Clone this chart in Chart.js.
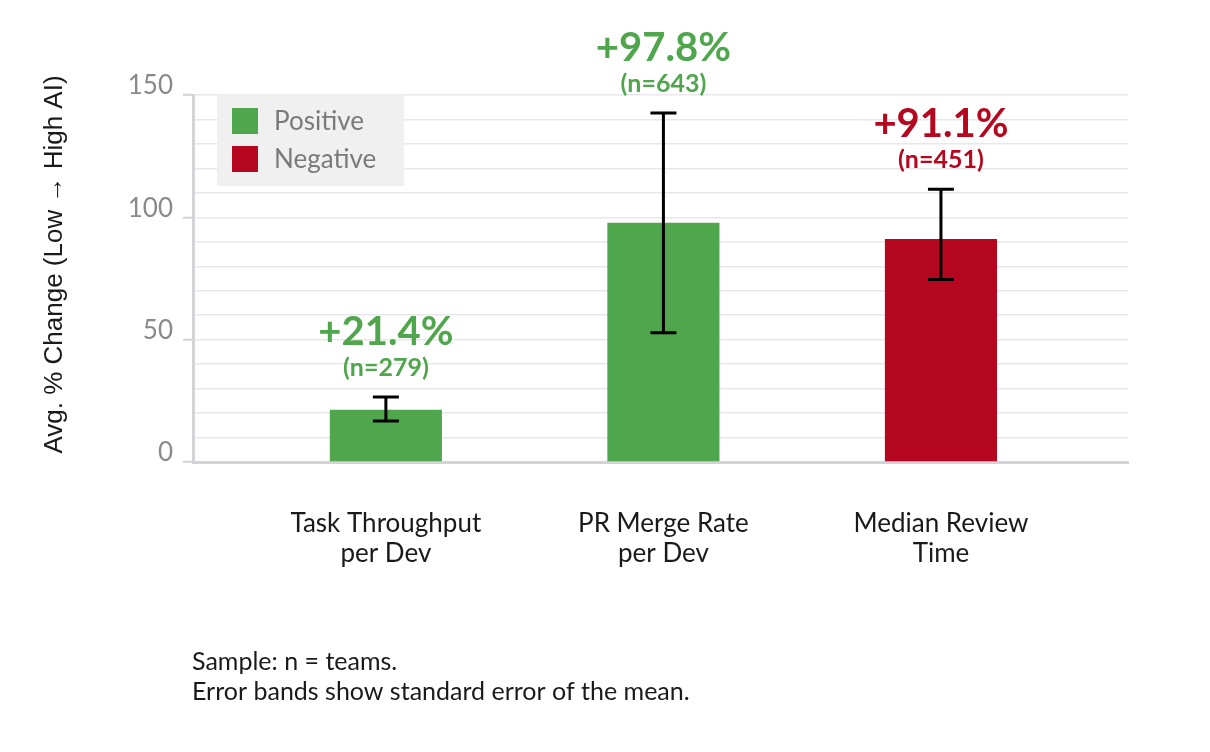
<!DOCTYPE html>
<html>
<head>
<meta charset="utf-8">
<script src="https://cdn.jsdelivr.net/npm/chart.js@4.4.1/dist/chart.umd.min.js"></script>
<style>
  html, body { margin: 0; padding: 0; background: #ffffff; }
  #wrap { width: 1210px; height: 752px; position: relative; }
</style>
</head>
<body>
<div id="wrap"><canvas id="c" width="1210" height="752"></canvas></div>
<script>
// ---- data ----
const categories = [["Task Throughput", "per Dev"], ["PR Merge Rate", "per Dev"], ["Median Review", "Time"]];
const values = [21.4, 97.8, 91.1];
const errorsUp = [5.2, 44.8, 20.4];
const errorsDown = [4.6, 45.0, 16.5];
const sampleSizes = [279, 643, 451];
const sentiment = ["Positive", "Positive", "Negative"];
const seriesNames = ["Positive", "Negative"];
const seriesColors = ["#50a64c", "#b5071f"];
const yTickLabels = [0, 50, 100, 150];
const footerLines = ["Sample: n = teams.", "Error bands show standard error of the mean."];
const yTitle = "Avg. % Change (Low \u2192 High AI)";

const datasets = seriesNames.map((name, s) => ({
  label: name,
  data: values.map((v, i) => sentiment[i] === name ? { x: i, y: v } : null).filter(p => p !== null),
  backgroundColor: seriesColors[s],
  borderWidth: 0,
  grouped: false,
  barPercentage: 0.404,
  categoryPercentage: 1.0
}));

const colorFor = i => seriesColors[seriesNames.indexOf(sentiment[i])];

const errorBarPlugin = {
  id: 'errorBars',
  afterDatasetsDraw(chart) {
    const { ctx, scales: { x, y } } = chart;
    ctx.save();
    ctx.strokeStyle = '#000000';
    ctx.lineWidth = 3;
    values.forEach((v, i) => {
      const px = x.getPixelForValue(i);
      const top = y.getPixelForValue(v + errorsUp[i]);
      const bot = y.getPixelForValue(v - errorsDown[i]);
      ctx.beginPath();
      ctx.moveTo(px, top); ctx.lineTo(px, bot);
      ctx.moveTo(px - 13, top); ctx.lineTo(px + 13, top);
      ctx.moveTo(px - 13, bot); ctx.lineTo(px + 13, bot);
      ctx.stroke();
    });
    // value labels
    ctx.textAlign = 'center';
    ctx.textBaseline = 'middle';
    values.forEach((v, i) => {
      const px = x.getPixelForValue(i);
      const top = y.getPixelForValue(v + errorsUp[i]);
      ctx.fillStyle = colorFor(i);
      ctx.font = 'bold 40px Lato';
      ctx.fillText('+' + v.toFixed(1) + '%', px, top - 65);
      ctx.font = 'bold 25px Lato';
      ctx.fillText('(n=' + sampleSizes[i] + ')', px, top - 29);
    });
    ctx.restore();
  }
};

const legendPlugin = {
  id: 'boxLegend',
  afterDraw(chart) {
    const { ctx, chartArea } = chart;
    const lx = chartArea.left + 24, ly = chartArea.top - 1;
    ctx.save();
    ctx.fillStyle = '#f0f0f0';
    ctx.fillRect(lx, ly, 187, 92);
    ctx.font = '26px Lato';
    ctx.textBaseline = 'middle';
    ctx.textAlign = 'left';
    chart.data.datasets.forEach((ds, k) => {
      const cy = ly + 27 + k * 38;
      ctx.fillStyle = ds.backgroundColor;
      ctx.fillRect(lx + 15, cy - 13, 26, 26);
      ctx.fillStyle = '#7a7a7a';
      ctx.fillText(ds.label, lx + 57, cy + 1);
    });
    // footer
    ctx.fillStyle = '#1a1a1a';
    ctx.font = '25px Lato';
    footerLines.forEach((t, k) => {
      ctx.fillText(t, chartArea.left - 1, chartArea.bottom + 200 + k * 30);
    });
    // y axis title
    ctx.save();
    ctx.translate(55, (chartArea.top + chartArea.bottom) / 2 - 14);
    ctx.rotate(-Math.PI / 2);
    ctx.textAlign = 'center';
    ctx.textBaseline = 'middle';
    ctx.font = '26px "Liberation Sans"';
    ctx.fillText(yTitle, 0, 0);
    ctx.restore();
    ctx.restore();
  }
};

new Chart(document.getElementById('c'), {
  type: 'bar',
  data: { datasets },
  options: {
    responsive: false,
    animation: false,
    devicePixelRatio: 1,
    layout: { padding: { top: 95, right: 82, bottom: 0, left: 0 } },
    plugins: { legend: { display: false }, tooltip: { enabled: false } },
    scales: {
      x: {
        type: 'linear',
        offset: false,
        min: -0.695,
        max: 2.674,
        afterBuildTicks(scale) { scale.ticks = categories.map((c, i) => ({ value: i })); },
        afterFit(scale) { scale.height = 290; },
        grid: { drawOnChartArea: false, drawTicks: false },
        border: { display: true, color: '#d3d3d8', width: 3 },
        ticks: {
          autoSkip: false,
          maxRotation: 0,
          padding: 46,
          color: '#1a1a1a',
          font: { family: 'Lato', size: 26, lineHeight: 1.18 },
          callback: (v) => categories[v] || ''
        }
      },
      y: {
        min: 0,
        max: 150,
        afterFit(scale) { scale.width = 193; },
        grid: {
          color: '#e8e8ea',
          lineWidth: 1.5,
          tickLength: 10,
          tickColor: (c) => (c.tick && yTickLabels.includes(c.tick.value)) ? '#d3d3d8' : 'rgba(0,0,0,0)',
          tickWidth: 2
        },
        border: { display: true, color: '#d3d3d8', width: 3 },
        ticks: {
          stepSize: 10,
          maxTicksLimit: 20,
          autoSkip: false,
          padding: 10,
          labelOffset: -9,
          color: '#8a8a8a',
          font: { family: 'Lato', size: 26 },
          callback: (v) => yTickLabels.includes(v) ? String(v) : ''
        }
      }
    }
  },
  plugins: [errorBarPlugin, legendPlugin]
});
</script>
</body>
</html>
